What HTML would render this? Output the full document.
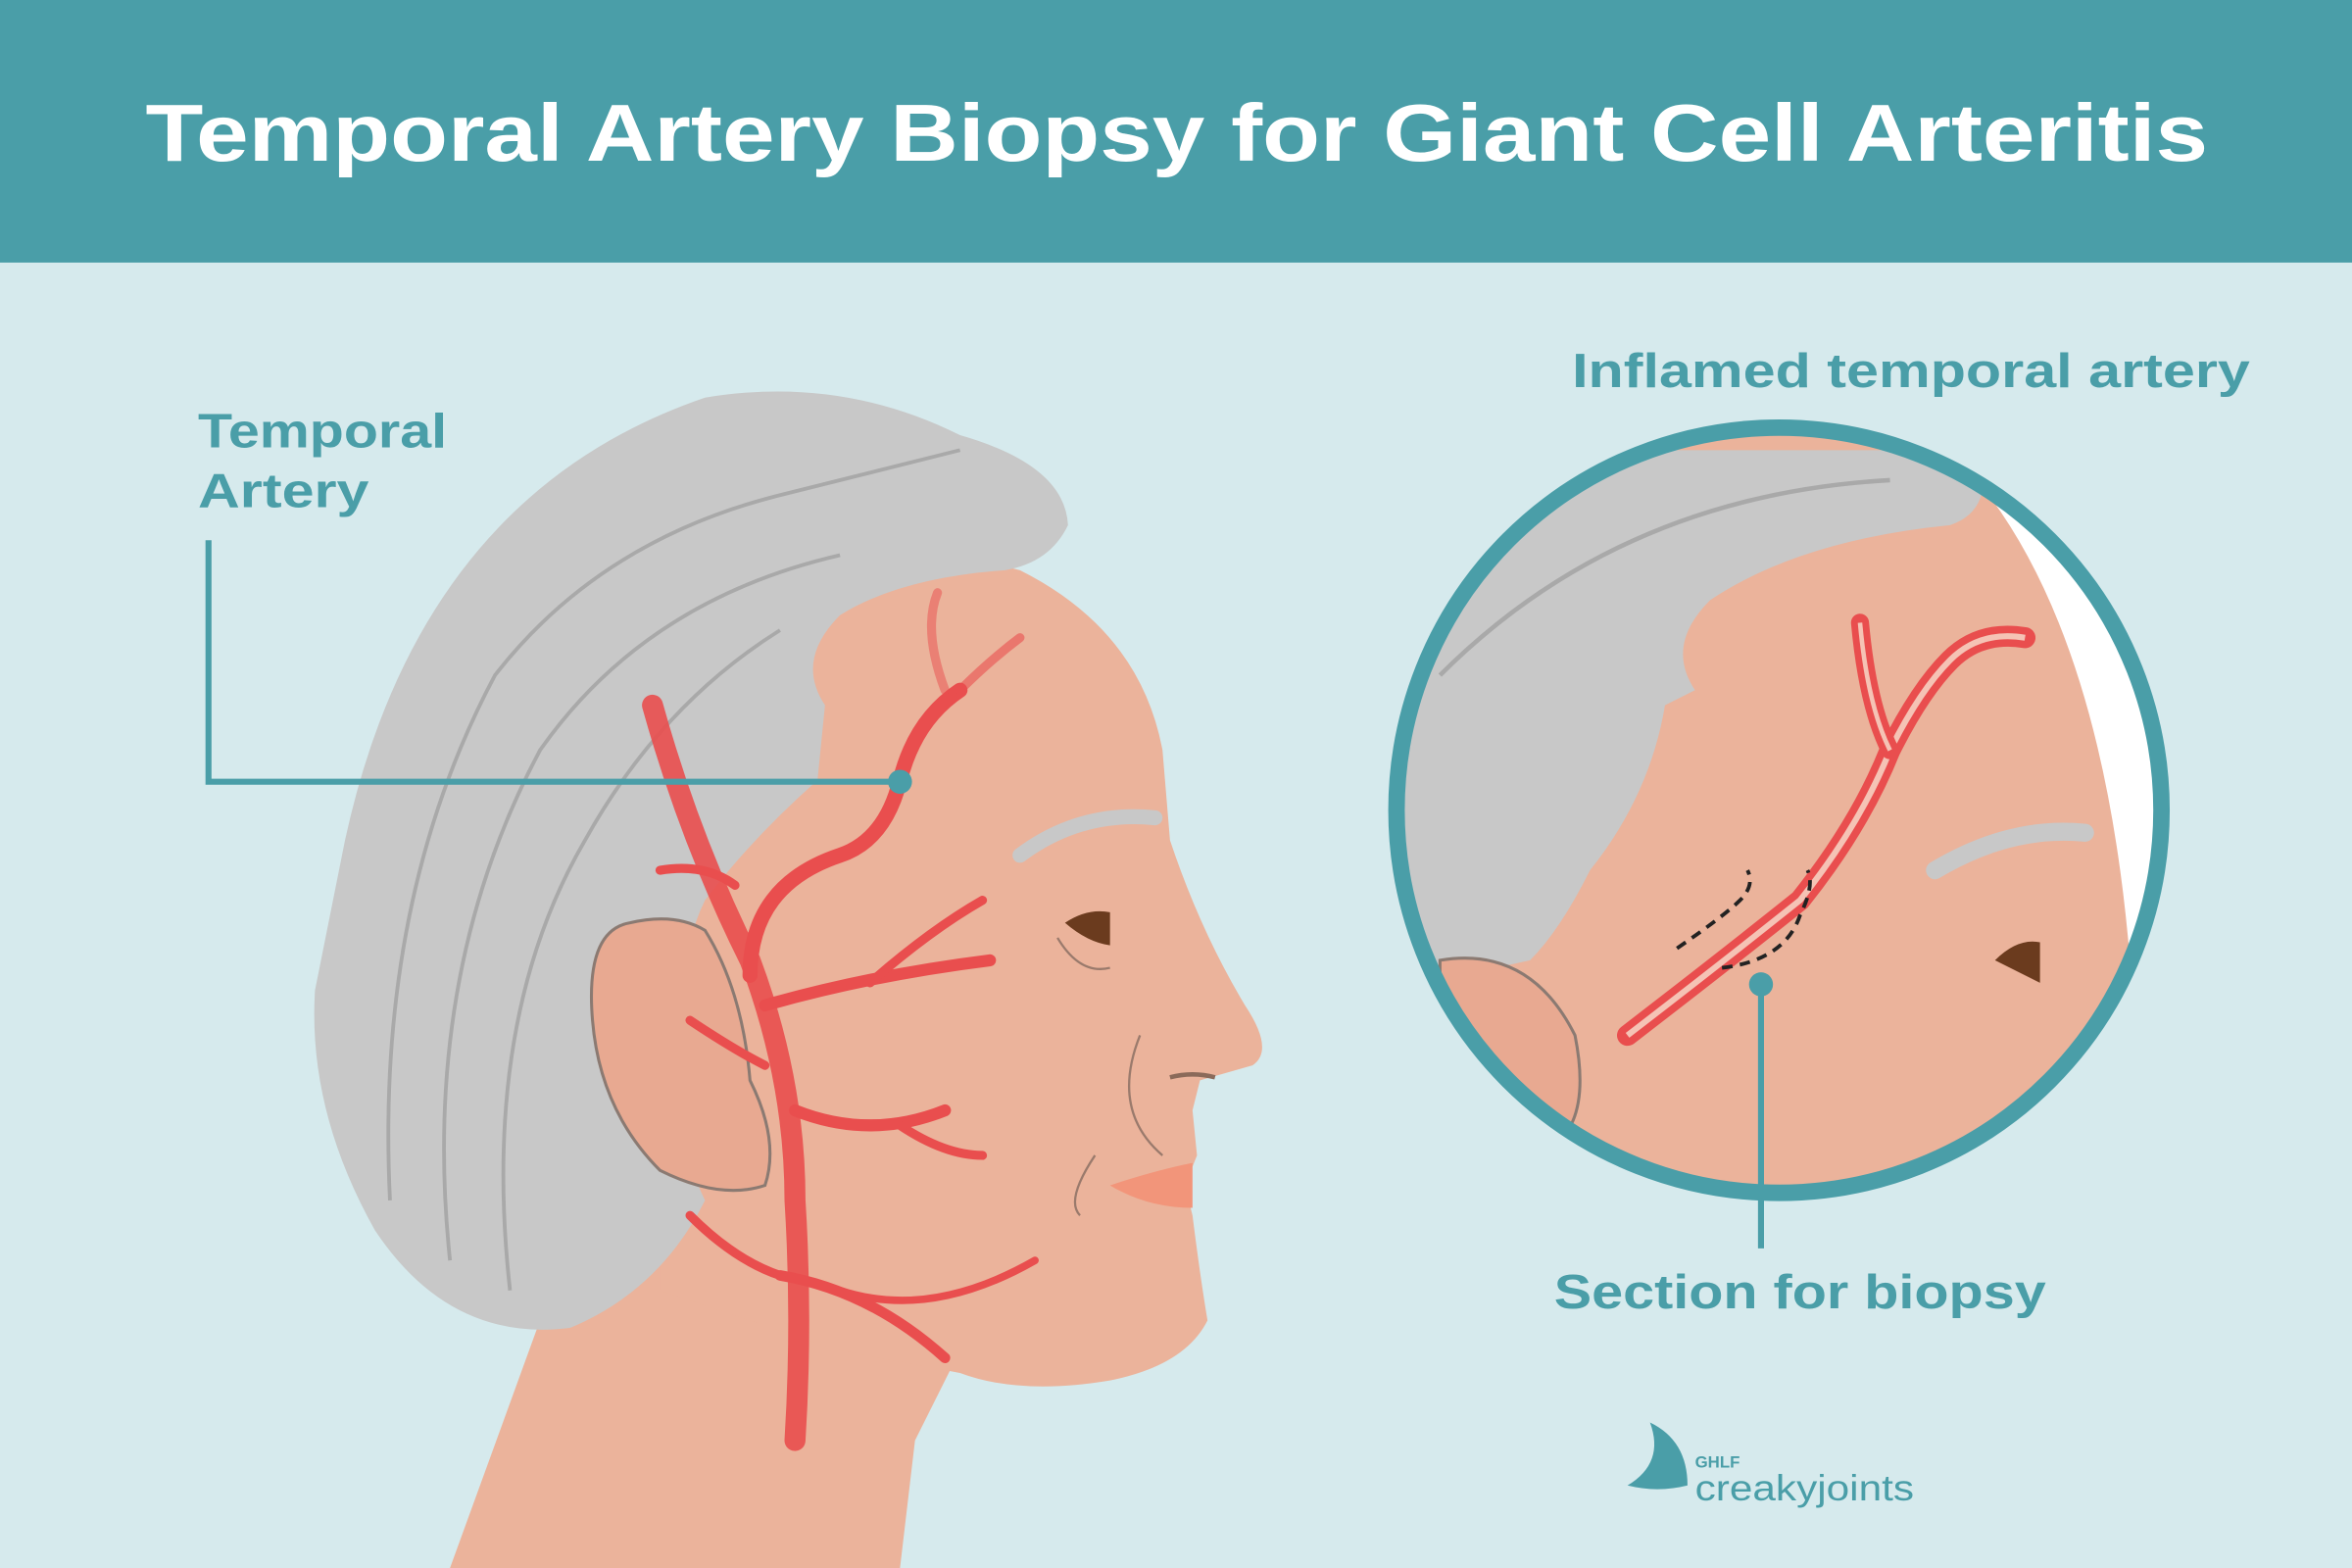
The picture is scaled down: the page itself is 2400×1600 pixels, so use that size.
<!DOCTYPE html>
<html><head><meta charset="utf-8"><style>
html,body{margin:0;padding:0;background:#d6eaed;}
svg{display:block}
text{font-family:"Liberation Sans",sans-serif;font-weight:bold}
</style></head><body>
<svg width="2400" height="1600" viewBox="0 0 1568 1045" preserveAspectRatio="none" xmlns="http://www.w3.org/2000/svg">
<rect width="1568" height="1045" fill="#d6eaed"/>
<rect width="1568" height="175" fill="#4a9ea8"/>
<text x="97" y="107" font-size="54" fill="#fff" textLength="1375" lengthAdjust="spacingAndGlyphs">Temporal Artery Biopsy for Giant Cell Arteritis</text>

<!-- neck -->
<path d="M300 1045 L360 880 L420 820 L640 900 L610 960 L600 1045 Z" fill="#ebb39b"/>
<!-- face -->
<path d="M440 400 Q560 350 680 380 Q760 420 775 500 L780 560 Q800 620 830 670 Q850 700 835 710 L800 720 L795 740 L798 770 L790 790 L795 810 Q800 850 805 880 Q790 910 740 920 Q680 930 640 915 L560 900 L440 860 Z" fill="#ebb39b"/>
<!-- hair -->
<path d="M230 560 Q280 330 470 265 Q560 250 640 290 Q710 310 712 350 Q700 375 670 380 Q600 385 560 410 Q530 440 550 470 L545 520 Q500 560 470 600 Q450 640 460 700 Q450 760 470 800 Q440 860 380 885 Q300 895 250 820 Q205 740 210 660 Z" fill="#c8c8c8"/>
<g fill="none" stroke="#a9a9a9" stroke-width="2.5">
<path d="M260 800 Q250 600 330 450 Q400 360 520 330 Q580 315 640 300"/>
<path d="M300 840 Q280 650 360 500 Q430 400 560 370"/>
<path d="M340 860 Q320 680 390 560 Q440 470 520 420"/>
</g>
<!-- ear -->
<path d="M420 615 Q390 620 395 680 Q400 740 440 780 Q480 800 510 790 Q520 760 500 720 Q495 660 470 620 Q450 608 420 615 Z" fill="#e8a991" stroke="#8b7a72" stroke-width="2"/>
<!-- arteries -->
<g fill="none" stroke="#e94e4e" stroke-linecap="round">
<path d="M435 470 Q460 560 500 640 Q530 720 530 800 Q535 880 530 960" stroke-width="14" opacity="0.9"/>
<path d="M500 650 Q500 590 560 570 Q590 560 600 520 Q610 480 640 460" stroke-width="10"/>
<path d="M640 460 Q660 440 680 425" stroke-width="6" opacity="0.6"/>
<path d="M630 460 Q615 420 625 395" stroke-width="6" opacity="0.5"/>
<path d="M510 670 Q580 650 660 640" stroke-width="8"/>
<path d="M580 655 Q620 620 655 600" stroke-width="6"/>
<path d="M530 740 Q580 760 630 740" stroke-width="8"/>
<path d="M600 750 Q630 770 655 770" stroke-width="6"/>
<path d="M520 850 Q580 860 630 905" stroke-width="7"/>
<path d="M560 860 Q620 880 690 840" stroke-width="5"/>
<path d="M460 680 Q490 700 510 710" stroke-width="6"/>
<path d="M460 810 Q490 840 520 850" stroke-width="6"/>
<path d="M440 580 Q470 575 490 590" stroke-width="6"/>
</g>
<!-- eye & brow -->
<path d="M680 570 Q720 540 770 545" stroke="#c8c8c8" stroke-width="10" fill="none" stroke-linecap="round"/>
<path d="M710 615 Q725 605 740 608 L740 630 Q725 628 710 615 Z" fill="#6b3b1e"/>
<path d="M705 625 Q720 650 740 645" stroke="#9a7a6c" stroke-width="1.5" fill="none"/>
<path d="M740 790 Q770 780 795 775 L795 805 Q765 805 740 790 Z" fill="#f2957a"/>
<path d="M780 718 Q795 714 810 718" stroke="#8b6a5a" stroke-width="3" fill="none"/>
<path d="M760 690 Q740 740 775 770 M730 770 Q710 800 720 810" stroke="#9a7a6c" stroke-width="1.5" fill="none"/>

<!-- label Temporal Artery -->
<text x="132" y="298" font-size="32" fill="#4a9ea8" textLength="166" lengthAdjust="spacingAndGlyphs">Temporal</text>
<text x="132" y="338" font-size="32" fill="#4a9ea8" textLength="114" lengthAdjust="spacingAndGlyphs">Artery</text>
<path d="M139 360 L139 521 L600 521" stroke="#4a9ea8" stroke-width="4" fill="none"/>
<circle cx="600" cy="521" r="8" fill="#4a9ea8"/>

<!-- circle inset -->
<defs><clipPath id="c"><circle cx="1186" cy="540" r="255"/></clipPath></defs>
<g clip-path="url(#c)">
<rect x="900" y="270" width="600" height="560" fill="#ebb39b"/>
<path d="M1300 300 Q1400 400 1420 640 L1500 640 L1500 270 Z" fill="#ffffff"/>
<path d="M920 300 L1320 300 Q1330 340 1300 350 Q1200 360 1140 400 Q1110 430 1130 460 L1110 470 Q1100 530 1060 580 Q1040 620 1020 640 L930 660 Z" fill="#c8c8c8"/>
<path d="M960 450 Q1080 330 1260 320" stroke="#a9a9a9" stroke-width="3" fill="none"/>
<path d="M960 640 Q1020 630 1050 690 Q1060 740 1040 760 L960 760 Z" fill="#e8a991" stroke="#8b7a72" stroke-width="2"/>
<path d="M1085 690 Q1150 640 1200 600 Q1240 550 1260 500 Q1280 460 1300 440 Q1320 420 1350 425" stroke="#e94e4e" stroke-width="14" fill="none" stroke-linecap="round"/>
<path d="M1085 690 Q1150 640 1200 600 Q1240 550 1260 500 Q1280 460 1300 440 Q1320 420 1350 425" stroke="#f5c3b5" stroke-width="4" fill="none"/>
<path d="M1260 500 Q1245 470 1240 415" stroke="#e94e4e" stroke-width="12" fill="none" stroke-linecap="round"/>
<path d="M1260 500 Q1245 470 1240 415" stroke="#f5c3b5" stroke-width="3" fill="none"/>
<path d="M1118 632 Q1150 610 1160 600 Q1170 590 1165 580 M1148 645 Q1190 640 1200 610 Q1210 590 1205 580" stroke="#222" stroke-width="2.5" stroke-dasharray="7,5" fill="none"/>
<path d="M1290 580 Q1340 550 1390 555" stroke="#c8c8c8" stroke-width="12" fill="none" stroke-linecap="round"/>
<path d="M1330 640 Q1345 625 1360 628 L1360 655 Z" fill="#6b3b1e"/>
</g>
<circle cx="1186" cy="540" r="255" fill="none" stroke="#4a9ea8" stroke-width="11"/>
<text x="1048" y="258" font-size="32" fill="#4a9ea8" textLength="452" lengthAdjust="spacingAndGlyphs">Inflamed temporal artery</text>
<circle cx="1174" cy="656" r="8" fill="#4a9ea8"/>
<path d="M1174 656 L1174 832" stroke="#4a9ea8" stroke-width="4"/>
<text x="1036" y="872" font-size="32" fill="#4a9ea8" textLength="328" lengthAdjust="spacingAndGlyphs">Section for biopsy</text>

<!-- logo -->
<path d="M1100 948 Q1125 960 1125 990 Q1105 995 1085 990 Q1110 975 1100 948 Z" fill="#4a9ea8"/>
<text x="1130" y="978" font-size="11" fill="#4a9ea8">GHLF</text>
<text x="1130" y="1000" font-size="24" fill="#4a9ea8" style="font-weight:normal" textLength="146" lengthAdjust="spacingAndGlyphs">creakyjoints</text>
</svg>
</body></html>
